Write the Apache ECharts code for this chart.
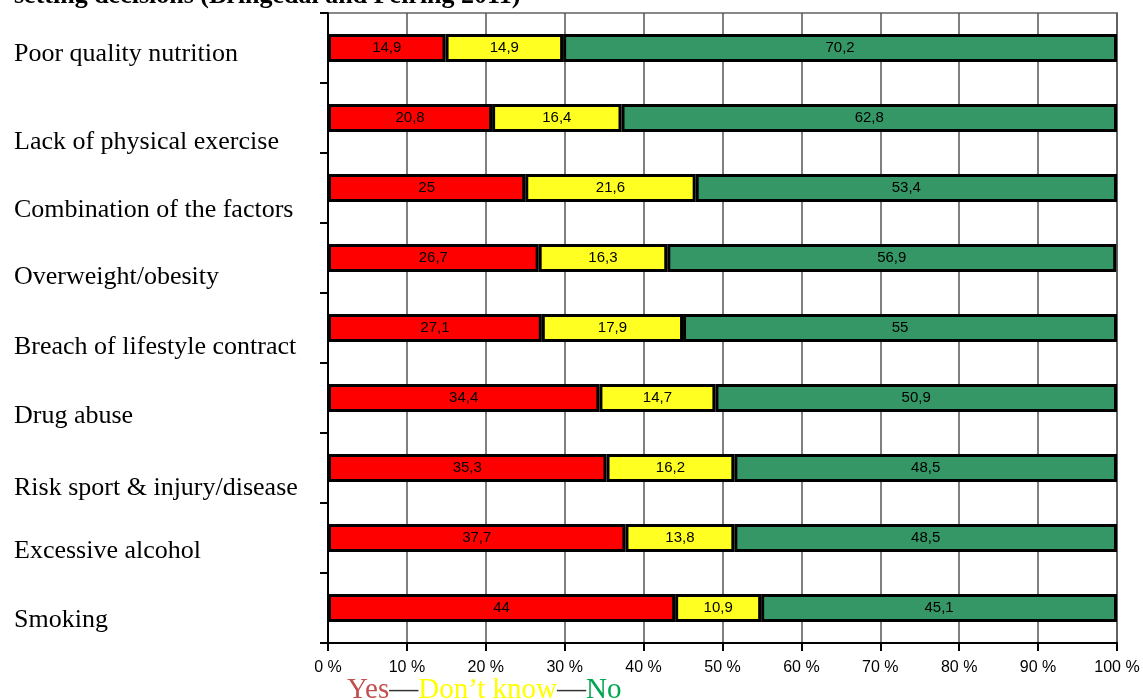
<!DOCTYPE html>
<html>
<head>
<meta charset="utf-8">
<script src="https://cdn.jsdelivr.net/npm/echarts@6/dist/echarts.min.js"></script>
<style>
  html, body { margin: 0; padding: 0; background: #fff; }
  #chart { width: 1143px; height: 700px; }
</style>
</head>
<body>
<div id="chart"></div>
<script>
// categories, top to bottom
const categories = [
  'Poor quality nutrition',
  'Lack of physical exercise',
  'Combination of the factors',
  'Overweight/obesity',
  'Breach of lifestyle contract',
  'Drug abuse',
  'Risk sport & injury/disease',
  'Excessive alcohol',
  'Smoking'
]
const yesValues = [14.9, 20.8, 25, 26.7, 27.1, 34.4, 35.3, 37.7, 44]
const dontKnowValues = [14.9, 16.4, 21.6, 16.3, 17.9, 14.7, 16.2, 13.8, 10.9]
const noValues = [70.2, 62.8, 53.4, 56.9, 55, 50.9, 48.5, 48.5, 45.1]
const xTicks = [0, 10, 20, 30, 40, 50, 60, 70, 80, 90, 100]

const chart = echarts.init(document.getElementById('chart'))

// category labels sit a bit below their bars in the original
const labelY = [54, 142, 210, 277, 347, 416, 488, 551, 620]
const serif = '"Liberation Serif", "DejaVu Serif", serif'
const sans = '"Liberation Sans", Arial, sans-serif'

function barSeries(name, data, color) {
  return {
    name,
    type: 'bar',
    stack: 'total',
    barWidth: 28,
    data,
    itemStyle: { color, borderColor: '#000', borderWidth: 3 },
    label: {
      show: true,
      position: 'inside',
      color: '#000',
      fontFamily: sans,
      fontSize: 15,
      formatter: (p) => String(p.value).replace('.', ',')
    },
    emphasis: { disabled: true }
  }
}

chart.setOption({
  animation: false,
  grid: {
    left: 328, right: 26, top: 13, height: 630,
    show: true, borderColor: '#888', borderWidth: 2, backgroundColor: '#fff'
  },
  xAxis: {
    type: 'value',
    min: xTicks[0],
    max: xTicks[xTicks.length - 1],
    interval: 10,
    axisLine: { show: true, lineStyle: { color: '#000', width: 2 } },
    axisTick: { show: true, length: 8, lineStyle: { color: '#000', width: 2 } },
    splitLine: { show: true, lineStyle: { color: '#555', width: 1.5 } },
    axisLabel: {
      color: '#000',
      fontFamily: sans,
      fontSize: 16,
      margin: 17,
      formatter: '{value} %'
    }
  },
  yAxis: {
    type: 'category',
    data: categories,
    inverse: true,
    axisLine: { show: true, lineStyle: { color: '#000', width: 2 } },
    axisTick: { show: true, length: 8, lineStyle: { color: '#000', width: 2 } },
    axisLabel: { show: false },
    splitLine: { show: false }
  },
  series: [
    barSeries('Yes', yesValues, '#ff0000'),
    barSeries("Don't know", dontKnowValues, '#ffff22'),
    barSeries('No', noValues, '#359766')
  ],
  graphic: [
    {
      type: 'text', left: 14, top: -17,
      style: {
        text: 'setting decisions (Bringedal and Feiring 2011)',
        font: 'bold 26px ' + serif,
        fill: '#000'
      }
    },
    ...categories.map((c, i) => ({
      type: 'text', x: 14, y: labelY[i],
      style: {
        text: c,
        font: '26px ' + serif,
        fill: '#000',
        verticalAlign: 'middle'
      }
    })),
    {
      type: 'text', x: 347, y: 676,
      style: {
        text: '{y|Yes}{d|—}{k|Don’t know}{d|—}{n|No}',
        font: '29px ' + serif,
        verticalAlign: 'top',
        rich: {
          y: { fill: '#c0504d', font: '29px ' + serif },
          d: { fill: '#333', font: '29px ' + serif },
          k: { fill: '#ffff00', font: '29px ' + serif },
          n: { fill: '#00a651', font: '29px ' + serif }
        }
      }
    }
  ]
})
</script>
</body>
</html>
